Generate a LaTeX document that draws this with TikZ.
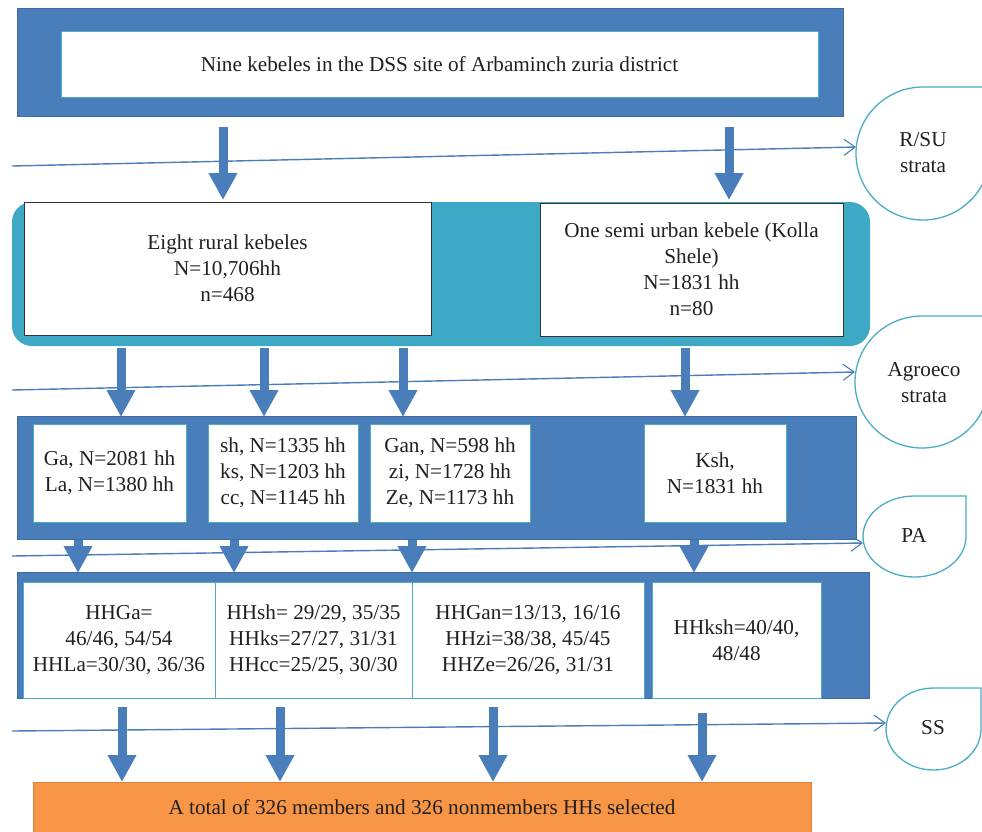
\documentclass[tikz,border=0pt]{standalone}
\usepackage{fontspec}
\setmainfont{Liberation Serif}
\usetikzlibrary{arrows.meta}
\definecolor{pblue}{HTML}{4A7EBB}
\definecolor{pbluedk}{HTML}{3F6DA3}
\definecolor{pteal}{HTML}{3EA9C4}
\definecolor{pcyan}{HTML}{4BACC6}
\definecolor{porange}{HTML}{F79646}
\definecolor{porangedk}{HTML}{E0803A}
\definecolor{ptext}{HTML}{231F20}
\newcommand{\tdrop}[4]{\draw[tdline] (#1+#3,#2-#4) -- (#1,#2-#4) arc[start angle=-90,end angle=-360,x radius=#3,y radius=#4] -- cycle;}
\begin{document}
\begin{tikzpicture}[x=1pt,y=-1pt,
  every node/.style={font=\fontsize{21.2}{26}\selectfont, text=ptext, align=center, inner sep=0pt},
  bluepanel/.style={draw=pbluedk, fill=pblue, line width=1pt},
  tealpanel/.style={fill=pteal, rounded corners=20pt},
  wbox/.style={draw=pcyan, fill=white, line width=1pt},
  kbox/.style={draw=black!80, fill=white, line width=1pt},
  obox/.style={draw=porangedk, fill=porange, line width=1pt},
  barrow/.style={draw=pblue, line width=9pt, -{Triangle[width=27pt,length=27pt]}},
  tline/.style={draw=pblue, line width=1.4pt, -{Straight Barb[length=11pt,width=16pt,line width=1.1pt]}},
  tdline/.style={draw=pcyan, line width=1.3pt, fill=white}]
\useasboundingbox (0,0) rectangle (982,831);
\clip (0,0) rectangle (982,831);

% level 1
\node[bluepanel, minimum width=826, minimum height=108] (p1) at (430,62) {};
\node[wbox, minimum width=757, minimum height=66] (nine) at (439.5,64) {Nine kebeles in the DSS site of Arbaminch zuria district};

% level 2
\node[tealpanel, minimum width=858, minimum height=144] (p2) at (441,274) {};
\node[kbox, minimum width=407, minimum height=133] (rural) at (227.5,268.5) {Eight rural kebeles\\N=10,706hh\\n=468};
\node[kbox, minimum width=303, minimum height=133] (semi) at (691.5,269.5) {One semi urban kebele (Kolla\\Shele)\\N=1831 hh\\n=80};

% level 3
\node[bluepanel, minimum width=839, minimum height=123] (p3) at (436.5,477.5) {};
\node[wbox, minimum width=153, minimum height=98] (b1) at (109.5,473) {Ga, N=2081 hh\\La, N=1380 hh};
\node[wbox, minimum width=150, minimum height=98] (b2) at (283,473) {sh, N=1335 hh\\ks, N=1203 hh\\cc, N=1145 hh};
\node[wbox, minimum width=160, minimum height=98] (b3) at (450,473) {Gan, N=598 hh\\zi, N=1728 hh\\Ze, N=1173 hh};
\node[wbox, minimum width=142, minimum height=98] (b4) at (715,473) {Ksh,\\N=1831 hh};

% level 4
\node[bluepanel, minimum width=852, minimum height=126] (p4) at (443,635) {};
\node[wbox, minimum width=192, minimum height=116] (c1) at (119,640) {HHGa=\\46/46, 54/54\\HHLa=30/30, 36/36};
\node[wbox, minimum width=197, minimum height=116] (c2) at (313.5,640) {HHsh= 29/29, 35/35\\HHks=27/27, 31/31\\HHcc=25/25, 30/30};
\node[wbox, minimum width=232, minimum height=116] (c3) at (528,640) {HHGan=13/13, 16/16\\HHzi=38/38, 45/45\\HHZe=26/26, 31/31};
\node[wbox, minimum width=169, minimum height=116] (c4) at (736.5,640) {HHksh=40/40,\\48/48};

% bottom
\node[obox, minimum width=778, minimum height=50] (total) at (422,807) {A total of 326 members and 326 nonmembers HHs selected};

% side teardrops
\tdrop{923}{153.5}{67}{66.5}
\tdrop{922}{382}{67}{66}
\tdrop{914.5}{536.5}{51.5}{40.5}
\tdrop{933.5}{729}{47.5}{41}
\node (rsu) at (923,153) {R/SU\\strata};
\node (agro) at (924,383) {Agroeco\\strata};
\node (pa) at (914,535) {PA};
\node (ss) at (933,728) {SS};

% block arrows
\coordinate (a11) at (223,127); \coordinate (a11e) at (223,200);
\coordinate (a12) at (729,127); \coordinate (a12e) at (729,200);
\draw[barrow] (a11) -- (a11e);
\draw[barrow] (a12) -- (a12e);
\foreach \i/\x in {1/121,2/264,3/403,4/685}{
  \coordinate (a2\i) at (\x,348); \coordinate (a2\i e) at (\x,417);
  \draw[barrow] (a2\i) -- (a2\i e);}
\foreach \i/\x in {1/78,2/234,3/412,4/694}{
  \coordinate (a3\i) at (\x,540); \coordinate (a3\i e) at (\x,573);
  \draw[barrow] (a3\i) -- (a3\i e);}
\foreach \i/\x/\s in {1/122/707,2/280/707,3/493/707,4/702/713}{
  \coordinate (a4\i) at (\x,\s); \coordinate (a4\i e) at (\x,782);
  \draw[barrow] (a4\i) -- (a4\i e);}

% stratification lines
\coordinate (l1) at (12,166); \coordinate (rsuin) at (856,147);
\coordinate (l2) at (12,390); \coordinate (agroin) at (855,372);
\coordinate (l3) at (12,556); \coordinate (pain) at (863,543);
\coordinate (l4) at (12,731); \coordinate (ssin) at (886,723);
\draw[tline] (l1) -- (rsuin);
\draw[tline] (l2) -- (agroin);
\draw[tline] (l3) -- (pain);
\draw[tline] (l4) -- (ssin);
\end{tikzpicture}
\end{document}
